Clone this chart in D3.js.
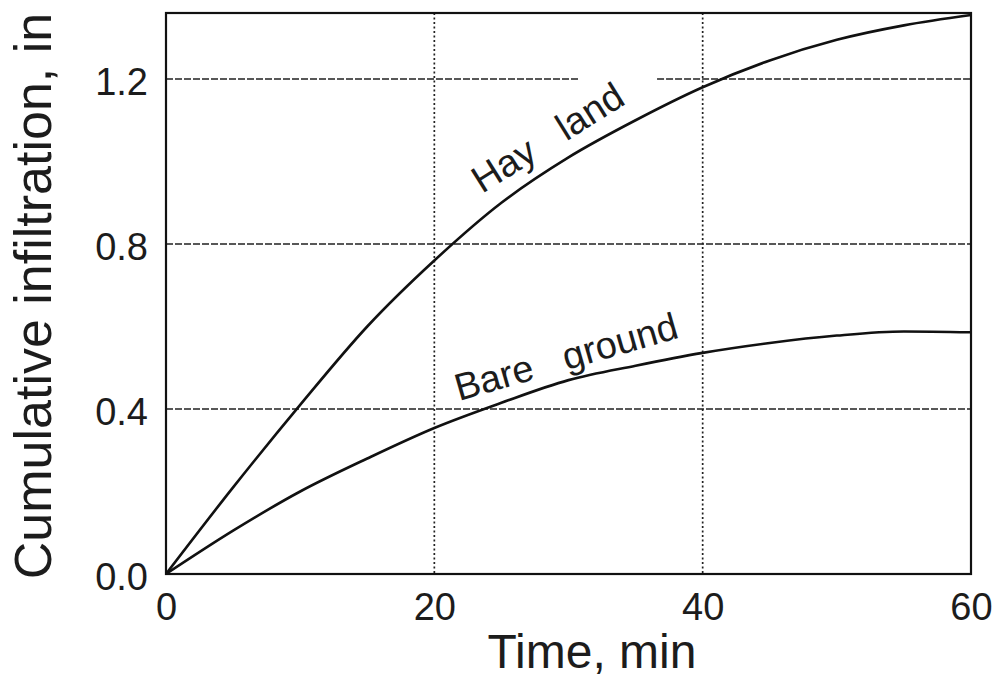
<!DOCTYPE html>
<html>
  <head>
    <title>Cumulative infiltration</title>
    <script src="https://d3js.org/d3.v7.min.js"></script>
    <style>
      body { margin: 0; background: #fff; }
      text { font-family: "Liberation Sans", Arial, sans-serif; fill: #1c1c1c; }
      .tick text { font-size: 38px; }
      .axis-label { font-size: 48px; }
      .curve-label { font-size: 38px; white-space: pre; }
    </style>
  </head>
  <body>
    <div id="chart"></div>
    <script>
      // time (min) and cumulative infiltration (in)
      const times = [0, 5, 10, 15, 20, 25, 30, 35, 40, 45, 50, 55, 60];
      const hayLand = [0, 0.21, 0.41, 0.6, 0.76, 0.9, 1.01, 1.1, 1.18, 1.245, 1.295, 1.33, 1.355];
      const bareGround = [0, 0.105, 0.2, 0.28, 0.354, 0.415, 0.47, 0.505, 0.536, 0.56, 0.578, 0.588, 0.586];
      const xTicks = [0, 20, 40, 60];
      const yTicks = [0, 0.4, 0.8, 1.2];
      const xGrid = [20, 40];
      const yGrid = [0.4, 0.8, 1.2];
      // pieces of grid line left blank behind the "Hay land" label (min)
      const gridGaps = [{ y: 1.2, from: 30.8, to: 36.6 }];

      const margin = { top: 13, right: 32, bottom: 125, left: 166 };
      const width = 1003 - margin.left - margin.right;
      const height = 699 - margin.top - margin.bottom;

      const svg = d3
        .select("#chart")
        .append("svg")
        .attr("width", 1003)
        .attr("height", 699)
        .append("g")
        .attr("transform", `translate(${margin.left}, ${margin.top})`);

      const x = d3.scaleLinear().domain([0, 60]).range([0, width]);
      const y = d3.scaleLinear().domain([0, 1.36]).range([height, 0]);

      // vertical grid lines (dotted)
      svg
        .selectAll(".vgrid")
        .data(xGrid)
        .enter()
        .append("line")
        .attr("x1", (d) => x(d))
        .attr("x2", (d) => x(d))
        .attr("y1", 0)
        .attr("y2", height)
        .attr("stroke", "#222")
        .attr("stroke-width", 1.7)
        .attr("stroke-dasharray", "2,2.5");

      // horizontal grid lines (dashed), split where a label sits
      const hSegments = [];
      yGrid.forEach((v) => {
        const gap = gridGaps.find((g) => g.y === v);
        if (gap) {
          hSegments.push({ y: v, a: 0, b: gap.from });
          hSegments.push({ y: v, a: gap.to, b: 60 });
        } else {
          hSegments.push({ y: v, a: 0, b: 60 });
        }
      });
      svg
        .selectAll(".hgrid")
        .data(hSegments)
        .enter()
        .append("line")
        .attr("x1", (d) => x(d.a))
        .attr("x2", (d) => x(d.b))
        .attr("y1", (d) => y(d.y))
        .attr("y2", (d) => y(d.y))
        .attr("stroke", "#222")
        .attr("stroke-width", 1.6)
        .attr("stroke-dasharray", "7,2");

      // frame
      svg
        .append("rect")
        .attr("width", width)
        .attr("height", height)
        .attr("fill", "none")
        .attr("stroke", "#111")
        .attr("stroke-width", 2.2);

      // curves
      const line = d3
        .line()
        .x((d) => x(d[0]))
        .y((d) => y(d[1]))
        .curve(d3.curveMonotoneX);

      [hayLand, bareGround].forEach((series) => {
        svg
          .append("path")
          .datum(times.map((t, i) => [t, series[i]]))
          .attr("fill", "none")
          .attr("stroke", "#111")
          .attr("stroke-width", 2.6)
          .attr("d", line);
      });

      // axes (ticks only, frame drawn above)
      const xAxis = svg
        .append("g")
        .attr("transform", `translate(0, ${height})`)
        .call(d3.axisBottom(x).tickValues(xTicks).tickSize(0).tickPadding(19));
      const yAxis = svg
        .append("g")
        .call(d3.axisLeft(y).tickValues(yTicks).tickSize(0).tickPadding(18).tickFormat(d3.format(".1f")));
      xAxis.select(".domain").remove();
      yAxis.select(".domain").remove();
      svg.selectAll(".tick text").attr("font-family", null).attr("font-size", null);
      yAxis.selectAll(".tick text").attr("dy", "0.4em");

      // axis titles
      svg
        .append("text")
        .attr("class", "axis-label")
        .attr("x", 592 - margin.left)
        .attr("y", 668 - margin.top)
        .style("text-anchor", "middle")
        .text("Time, min");
      svg
        .append("text")
        .attr("class", "axis-label")
        .attr("transform", `translate(${51 - margin.left}, ${296 - margin.top}) rotate(-90)`)
        .style("text-anchor", "middle")
        .style("font-size", "52px")
        .text("Cumulative infiltration, in");

      // curve labels
      svg
        .append("text")
        .attr("class", "curve-label")
        .attr("transform", `translate(${482 - margin.left}, ${194 - margin.top}) rotate(-32)`)
        .text("Hay   land");
      svg
        .append("text")
        .attr("class", "curve-label")
        .attr("transform", `translate(${459 - margin.left}, ${401 - margin.top}) rotate(-16)`)
        .text("Bare   ground");
    </script>
  </body>
</html>
